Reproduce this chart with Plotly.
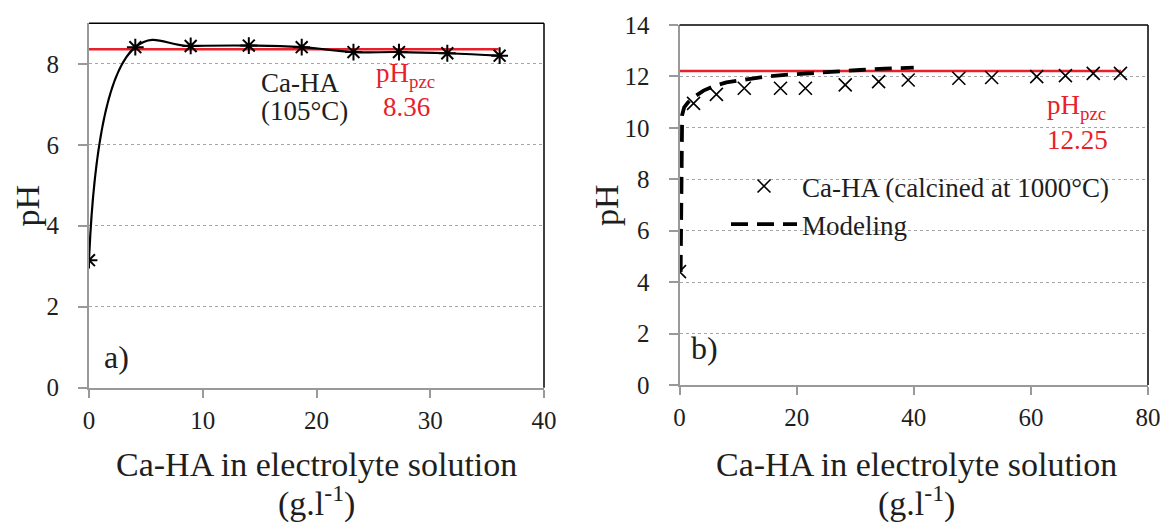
import plotly.graph_objects as go

# ---------------- data ----------------
# panel a) Ca-HA dried at 105 °C
a_x = [0, 4.07, 8.94, 14.05, 18.7, 23.25, 27.25, 31.5, 36.1]
a_ph = [3.15, 8.41, 8.44, 8.45, 8.41, 8.29, 8.29, 8.26, 8.2]
a_pzc_x = [0, 36]
a_pzc = [8.36, 8.36]

# panel b) Ca-HA calcined at 1000 °C
b_x = [0, 2.4, 6.3, 11.06, 17.25, 21.5, 28.3, 34.0, 39.05, 47.7, 53.3, 61.0, 65.9, 70.65, 75.3]
b_ph = [4.41, 10.95, 11.3, 11.54, 11.54, 11.54, 11.67, 11.8, 11.86, 11.93, 11.96, 11.99, 12.03, 12.12, 12.12]
model_x = [0.2, 0.3, 0.45, 0.8, 1.5, 2.5, 4.1, 6.0, 8.0, 11.5, 14.3, 18.0, 21.4, 26.0, 30.8, 35.0, 40.0]
model_ph = [4.4, 9.8, 10.5, 10.8, 11.0, 11.2, 11.45, 11.63, 11.77, 11.89, 11.98, 12.06, 12.12, 12.19, 12.25, 12.3, 12.34]
b_pzc_x = [0, 75.4]
b_pzc = [12.21, 12.21]

# tick values
a_yticks = [0, 2, 4, 6, 8]
b_yticks = [0, 2, 4, 6, 8, 10, 12, 14]
a_xticks = [0, 10, 20, 30, 40]
b_xticks = [0, 20, 40, 60, 80]

FONT = "Liberation Serif"
TXT = "#1e1e1e"
RED = "#e8202a"
AXC = "#999999"
GRIDC = "#a6a6a6"

fig = go.Figure()

# panel a
fig.add_trace(go.Scatter(x=a_pzc_x, y=a_pzc, mode="lines", line=dict(color=RED, width=2.5),
                         showlegend=False, xaxis="x", yaxis="y"))
fig.add_trace(go.Scatter(x=a_x, y=a_ph, mode="lines+markers",
                         line=dict(color="black", width=2.2, shape="spline", smoothing=1.3),
                         marker=dict(symbol="asterisk-open", size=14, color="black",
                                     line=dict(color="black", width=2)),
                         showlegend=False, xaxis="x", yaxis="y"))
# panel b
fig.add_trace(go.Scatter(x=b_pzc_x, y=b_pzc, mode="lines", line=dict(color=RED, width=2.5),
                         showlegend=False, xaxis="x2", yaxis="y2"))
fig.add_trace(go.Scatter(x=b_x, y=b_ph, mode="markers", name="Ca-HA (calcined at 1000°C)",
                         marker=dict(symbol="x-thin-open", size=13, color="black",
                                     line=dict(color="black", width=1.6)),
                         xaxis="x2", yaxis="y2"))
fig.add_trace(go.Scatter(x=model_x, y=model_ph, mode="lines", name="Modeling",
                         line=dict(color="black", width=3.8, dash="17px,9px"),
                         xaxis="x2", yaxis="y2"))

W, H = 1176, 522
OFF = 8  # page body margin of the host page


def px_x(p):
    return (p - OFF) / W


def px_y(p):
    return 1 - (p - OFF) / H


TICKF = dict(size=25, family=FONT, color=TXT)
xa = dict(showline=True, linecolor=AXC, linewidth=2, ticks="outside", tickcolor=AXC,
          tickwidth=1.5, ticklen=8, zeroline=False, showgrid=False, fixedrange=True,
          tickfont=TICKF, ticklabelstandoff=1)
ya = dict(showline=True, linecolor=AXC, linewidth=2, ticks="outside", tickcolor=AXC,
          tickwidth=1.5, ticklen=9, zeroline=False, showgrid=True, gridcolor=GRIDC,
          griddash="dot", gridwidth=1.2, fixedrange=True, tickfont=TICKF,
          ticklabelstandoff=14)

fig.update_layout(
    width=W, height=H,
    margin=dict(l=0, r=0, t=0, b=0, autoexpand=False),
    paper_bgcolor="white", plot_bgcolor="white",
    font=dict(family=FONT, color=TXT, size=25),
    xaxis=dict(domain=[px_x(89), px_x(544)], range=[0, 40], tickvals=a_xticks, anchor="y", **xa),
    yaxis=dict(domain=[px_y(387.7), px_y(23.3)], range=[0, 9], tickvals=a_yticks, anchor="x", **ya),
    xaxis2=dict(domain=[px_x(679.5), px_x(1148)], range=[0, 80], tickvals=b_xticks, anchor="y2", **xa),
    yaxis2=dict(domain=[px_y(385), px_y(25)], range=[0, 14], tickvals=b_yticks, anchor="x2", **ya),
    legend=dict(x=px_x(726), y=px_y(162), xanchor="left", yanchor="top",
                bgcolor="rgba(0,0,0,0)", borderwidth=0, itemwidth=66,
                font=dict(family=FONT, size=27, color=TXT), tracegroupgap=0),
)

# frame: top and right edges in black
for xr, yr in (("x domain", "y domain"), ("x2 domain", "y2 domain")):
    fig.add_shape(type="line", xref=xr, yref=yr, x0=0, x1=1, y0=1, y1=1,
                  line=dict(color="black", width=1.5), layer="above")
    fig.add_shape(type="line", xref=xr, yref=yr, x0=1, x1=1, y0=0, y1=1,
                  line=dict(color="black", width=1.5), layer="above")

ann = []
# axis titles
for cx, cy in ((27, 205.5), (606, 205)):
    ann.append(dict(text="pH", x=px_x(cx), y=px_y(cy), xref="paper", yref="paper",
                    textangle=-90, showarrow=False, font=dict(size=34, family=FONT, color=TXT),
                    xanchor="center", yanchor="middle"))
for cx in (316.5, 916):
    ann.append(dict(text="Ca-HA in electrolyte solution", x=px_x(cx), y=px_y(464), xref="paper",
                    yref="paper", showarrow=False, font=dict(size=34, family=FONT, color=TXT),
                    xanchor="center", yanchor="middle"))
    ann.append(dict(text="(g.l<sup>-1</sup>)", x=px_x(cx), y=px_y(501), xref="paper",
                    yref="paper", showarrow=False, font=dict(size=34, family=FONT, color=TXT),
                    xanchor="center", yanchor="middle"))

# in-plot labels
ann += [
    dict(text="Ca-HA", x=14.95, y=7.53, xref="x", yref="y", xanchor="left", yanchor="middle",
         showarrow=False, font=dict(size=27, family=FONT, color=TXT)),
    dict(text="(105°C)", x=14.95, y=6.84, xref="x", yref="y", xanchor="left", yanchor="middle",
         showarrow=False, font=dict(size=27, family=FONT, color=TXT)),
    dict(text="pH<sub>pzc</sub>", x=25.05, y=7.72, xref="x", yref="y", xanchor="left",
         yanchor="middle", showarrow=False, font=dict(size=27, family=FONT, color=RED)),
    dict(text="8.36", x=27.9, y=6.93, xref="x", yref="y", xanchor="center", yanchor="middle",
         showarrow=False, font=dict(size=27, family=FONT, color=RED)),
    dict(text="a)", x=2.43, y=0.76, xref="x", yref="y", xanchor="center", yanchor="middle",
         showarrow=False, font=dict(size=32, family=FONT, color=TXT)),
    dict(text="pH<sub>pzc</sub>", x=62.46, y=10.8, xref="x2", yref="y2", xanchor="left",
         yanchor="middle", showarrow=False, font=dict(size=27, family=FONT, color=RED)),
    dict(text="12.25", x=68.0, y=9.53, xref="x2", yref="y2", xanchor="center", yanchor="middle",
         showarrow=False, font=dict(size=27, family=FONT, color=RED)),
    dict(text="b)", x=4.35, y=1.42, xref="x2", yref="y2", xanchor="center", yanchor="middle",
         showarrow=False, font=dict(size=32, family=FONT, color=TXT)),
]
fig.update_layout(annotations=ann)

fig.write_html("out.html")
